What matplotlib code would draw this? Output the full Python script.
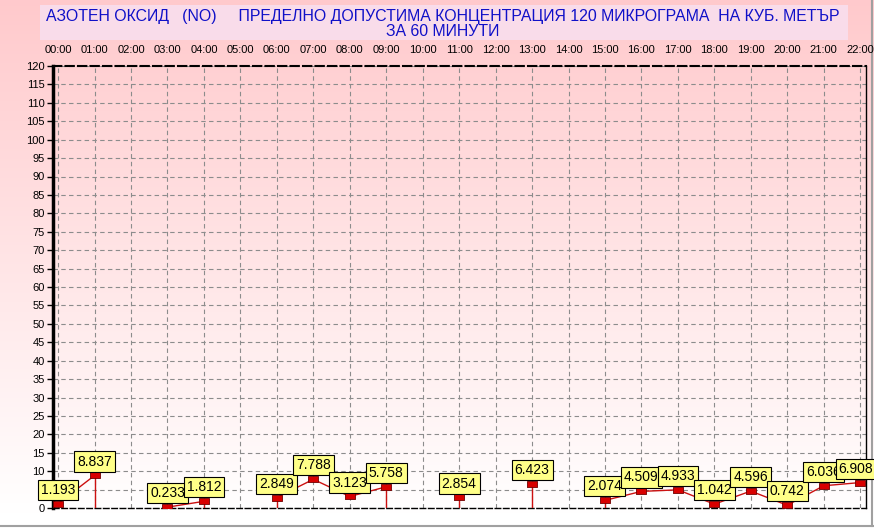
import matplotlib.pyplot as plt
import numpy as np
from matplotlib.lines import Line2D
from matplotlib.patches import Rectangle

hours = ["00:00", "01:00", "02:00", "03:00", "04:00", "05:00", "06:00", "07:00",
         "08:00", "09:00", "10:00", "11:00", "12:00", "13:00", "14:00", "15:00",
         "16:00", "17:00", "18:00", "19:00", "20:00", "21:00", "22:00"]
values = [1.193, 8.837, np.nan, 0.233, 1.812, np.nan, 2.849, 7.788,
          3.123, 5.758, np.nan, 2.854, np.nan, 6.423, np.nan, 2.074,
          4.509, 4.933, 1.042, 4.596, 0.742, 6.036, 6.908]
title = ("АЗОТЕН ОКСИД   (NO)     ПРЕДЕЛНО ДОПУСТИМА КОНЦЕНТРАЦИЯ 120 МИКРОГРАМА  НА КУБ. МЕТЪР\n"
         "ЗА 60 МИНУТИ")
y_ticks = list(range(0, 121, 5))

plt.rcParams['font.family'] = ['Liberation Sans', 'DejaVu Sans']

fig = plt.figure(figsize=(8.74, 5.29), dpi=100)

# pink to white background
bg = fig.add_axes([0, 0, 1, 1], zorder=-10)
grad = np.linspace(0, 1, 529)
top = np.array([1.0, 0.79, 0.80])
img = top[None, :] + (1 - top)[None, :] * np.clip(grad / 0.97, 0, 1)[:, None]
bg.imshow(img[:, None, :], aspect='auto', extent=[0, 1, 0, 1], origin='upper')
bg.axis('off')

# title box
fig.patches.append(Rectangle((40 / 874, 1 - 40 / 529), 808 / 874, 35 / 529,
                             transform=fig.transFigure, facecolor='#f9dcea',
                             edgecolor='none', zorder=-5))
fig.text(443 / 874, 1 - 24 / 529, title, ha='center', va='center',
         color='#1010c8', fontsize=11.4, linespacing=0.95)

# window frame lines
fig.lines.append(Line2D([0, 1], [1 - 526 / 529] * 2, transform=fig.transFigure,
                        color='#a0a0a0', lw=1.5, zorder=-1))
fig.lines.append(Line2D([872 / 874] * 2, [1 - 526 / 529, 1],
                        transform=fig.transFigure, color='#a0a0a0', lw=1.5,
                        zorder=-1))

ax = fig.add_axes([53 / 874, 1 - 508 / 529, 813 / 874, 442 / 529])
ax.set_facecolor('none')

x = np.arange(len(hours))
v = np.array(values)
ax.plot(x, v, color='#cc1010', lw=1, zorder=3)

# drop lines next to gaps
for i in range(len(v)):
    if np.isnan(v[i]):
        continue
    prev_gap = i > 0 and np.isnan(v[i - 1])
    next_gap = i < len(v) - 1 and np.isnan(v[i + 1])
    if prev_gap or next_gap:
        ax.plot([x[i], x[i]], [0, v[i]], color='#cc1010', lw=1, zorder=3)

rect = [(-1, -0.5), (1, -0.5), (1, 0.5), (-1, 0.5), (-1, -0.5)]
ax.plot(x, v, ls='none', marker=rect, ms=7.5, mfc='#d80000', mec='#700000',
        mew=0.6, zorder=4)

for i in range(len(v)):
    if np.isnan(v[i]):
        continue
    dx = -3 if i == len(v) - 1 else 0
    ax.annotate(f"{v[i]:.3f}", (x[i], v[i]), xytext=(dx, 5),
                textcoords='offset points', ha='center', va='bottom',
                fontsize=10, zorder=6,
                bbox=dict(boxstyle='square,pad=0.22', fc='#ffff88',
                          ec='black', lw=0.8), annotation_clip=False)

ax.set_xlim(-0.14, 22.16)
ax.set_ylim(0, 120)
ax.set_xticks(x)
ax.set_xticklabels(hours, fontsize=8)
ax.xaxis.tick_top()
ax.tick_params(axis='x', length=0, pad=8)
ax.set_yticks(y_ticks)
ax.tick_params(axis='y', labelsize=8, length=4, width=1, pad=2)

ax.grid(True, color='#8c8c8c', ls=(0, (4, 3)), lw=0.8)
ax.set_axisbelow(True)

ax.spines['left'].set_linewidth(2.5)
ax.spines['right'].set_linewidth(1)
ax.spines['top'].set_linestyle((0, (4, 2)))
ax.spines['top'].set_linewidth(1.5)
ax.spines['bottom'].set_linestyle((0, (4, 2)))
ax.spines['bottom'].set_linewidth(1)

fig.savefig('out.png', dpi=100)
